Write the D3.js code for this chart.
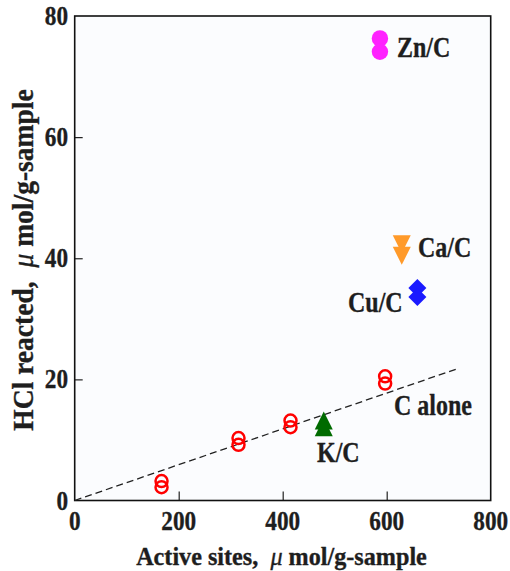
<!DOCTYPE html>
<html>
<head>
<meta charset="utf-8">
<script src="https://cdn.jsdelivr.net/npm/d3@7"></script>
<style>
  body { margin: 0; background: #fff; }
  text { font-family: "Liberation Serif", "Times New Roman", serif; font-weight: bold; fill: #1e1e1e; stroke: #1e1e1e; stroke-width: 0.35; }
</style>
</head>
<body>
<div id="chart"></div>
<script>
const width = 510;
const height = 571;

// data (two overlapping runs per catalyst)
const cAlone = [[167, 3.2], [167, 2.2], [315, 10.3], [315, 9.2], [415, 13.2], [415, 12.1], [597, 20.5], [597, 19.3]];
const kC = [[479, 13.2], [479, 12.1]];
const cuC = [[659, 35.1], [659, 33.6]];
const caC = [[629, 42.3], [629, 40.4]];
const znC = [[587, 76.3], [587, 74.1]];
const fitLine = [[0, 0], [739, 21.85]];

const xTicks = [0, 200, 400, 600, 800];
const yTicks = [0, 20, 40, 60, 80];

const svg = d3.select("#chart").append("svg")
	.attr("width", width)
	.attr("height", height);

const x = d3.scaleLinear().domain([0, 800]).range([74.7, 490.7]);
const y = d3.scaleLinear().domain([0, 80]).range([500.5, 16]);

// plot background + frame
svg.append("rect")
	.attr("x", x(0)).attr("y", y(80))
	.attr("width", x(800) - x(0)).attr("height", y(0) - y(80))
	.attr("fill", "#fbfcfe");

// inner ticks, no labels (labels drawn below, condensed)
svg.append("g")
	.attr("transform", `translate(0,${y(0)})`)
	.call(d3.axisBottom(x).tickValues([200, 400, 600]).tickSize(-9).tickFormat(""))
	.call(g => g.select(".domain").remove())
	.call(g => g.selectAll("line").attr("stroke", "#222").attr("stroke-width", 1.2));

svg.append("g")
	.attr("transform", `translate(${x(0)},0)`)
	.call(d3.axisLeft(y).tickValues([20, 40, 60]).tickSize(-8).tickFormat(""))
	.call(g => g.select(".domain").remove())
	.call(g => g.selectAll("line").attr("stroke", "#222").attr("stroke-width", 1.2));

svg.append("rect")
	.attr("x", x(0)).attr("y", y(80))
	.attr("width", x(800) - x(0)).attr("height", y(0) - y(80))
	.attr("fill", "none")
	.attr("stroke", "#111")
	.attr("stroke-width", 1.6);

// condensed bold text helper
function label(tx, ty, str, size, sx, anchor, rot) {
	return svg.append("text")
		.attr("transform", `translate(${tx},${ty})${rot ? " rotate(" + rot + ")" : ""} scale(${sx},1)`)
		.attr("text-anchor", anchor || "start")
		.style("font-size", size + "px")
		.text(str);
}

xTicks.forEach(v => label(x(v), 530, v, 28, 0.83, "middle"));
yTicks.forEach(v => label(68, y(v) + 9, v, 28, 0.83, "end"));

const xt = label(281.5, 565, "", 26, 0.93, "middle");
xt.append("tspan").text("Active sites,\u00a0\u00a0");
xt.append("tspan").style("font-style", "italic").style("font-weight", "normal").text("\u03bc");
xt.append("tspan").text(" mol/g-sample");

const yt = label(33, 260, "", 29, 0.95, "middle", -90);
yt.append("tspan").text("HCl reacted,\u00a0\u00a0");
yt.append("tspan").style("font-style", "italic").style("font-weight", "normal").text("\u03bc");
yt.append("tspan").text(" mol/g-sample");

// dashed fit line
svg.append("path")
	.datum(fitLine)
	.attr("d", d3.line().x(d => x(d[0])).y(d => y(d[1])))
	.attr("fill", "none")
	.attr("stroke", "#222")
	.attr("stroke-width", 1.3)
	.attr("stroke-dasharray", "7,4");

// custom marker shapes
const triUp = { draw(ctx, s) { const w = 9, h = 18; ctx.moveTo(0, -h / 2); ctx.lineTo(w, h / 2); ctx.lineTo(-w, h / 2); ctx.closePath(); } };
const triDown = { draw(ctx, s) { const w = 9, h = 18; ctx.moveTo(0, h / 2); ctx.lineTo(w, -h / 2); ctx.lineTo(-w, -h / 2); ctx.closePath(); } };
const diamond = { draw(ctx, s) { const w = 9, h = 9; ctx.moveTo(0, -h); ctx.lineTo(w, 0); ctx.lineTo(0, h); ctx.lineTo(-w, 0); ctx.closePath(); } };

svg.append("g").selectAll("circle")
	.data(cAlone).join("circle")
	.attr("cx", d => x(d[0])).attr("cy", d => y(d[1]))
	.attr("r", 6)
	.attr("fill", "none")
	.attr("stroke", "#ff0000")
	.attr("stroke-width", 2.5);

svg.append("g").selectAll("circle")
	.data(znC).join("circle")
	.attr("cx", d => x(d[0])).attr("cy", d => y(d[1]))
	.attr("r", 8.2)
	.attr("fill", "#ff22ff");

function markers(data, type, color) {
	svg.append("g").selectAll("path")
		.data(data).join("path")
		.attr("transform", d => `translate(${x(d[0])},${y(d[1])})`)
		.attr("d", d3.symbol().type(type))
		.attr("fill", color);
}
markers(kC, triUp, "#006b00");
markers(caC, triDown, "#ff9a2a");
markers(cuC, diamond, "#1a1aff");

// series labels
label(397, 57, "Zn/C", 30, 0.8);
label(418, 257, "Ca/C", 30, 0.8);
label(348, 312, "Cu/C", 30, 0.8);
label(394, 415, "C alone", 30, 0.8);
label(317, 462, "K/C", 30, 0.8);
</script>
</body>
</html>
